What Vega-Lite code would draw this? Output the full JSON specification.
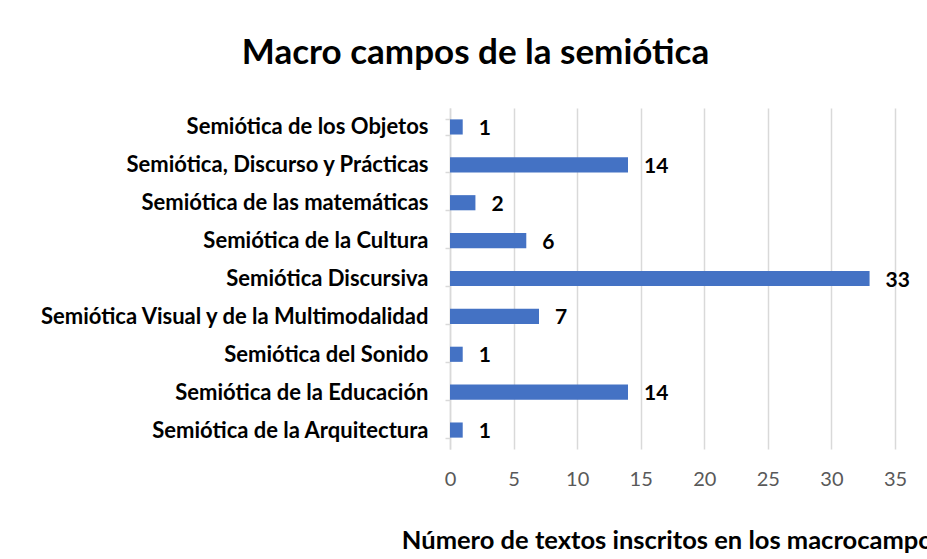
{
  "$schema": "https://vega.github.io/schema/vega-lite/v6.json",
  "width": 445,
  "height": 341,
  "autosize": {"type": "none"},
  "padding": {"left": 450, "top": 108, "right": 32, "bottom": 110},
  "background": "white",
  "title": {
    "text": "Macro campos de la semiótica",
    "font": "Lato",
    "fontSize": 35,
    "fontWeight": "bold",
    "color": "#000000",
    "anchor": "middle",
    "dx": -197,
    "offset": 26
  },
  "data": {
    "values": [
      {"campo": "Semiótica de los Objetos", "n": 1},
      {"campo": "Semiótica, Discurso y Prácticas", "n": 14},
      {"campo": "Semiótica de las matemáticas", "n": 2},
      {"campo": "Semiótica de la Cultura", "n": 6},
      {"campo": "Semiótica Discursiva", "n": 33},
      {"campo": "Semiótica Visual y de la Multimodalidad", "n": 7},
      {"campo": "Semiótica del Sonido", "n": 1},
      {"campo": "Semiótica de la Educación", "n": 14},
      {"campo": "Semiótica de la Arquitectura", "n": 1}
    ]
  },
  "encoding": {
    "y": {
      "field": "campo",
      "type": "nominal",
      "sort": null,
      "scale": {"paddingInner": 0.6, "paddingOuter": 0.3},
      "axis": {
        "title": null,
        "labelFont": "Lato",
        "labelFontSize": 22,
        "labelFontWeight": "bold",
        "labelColor": "#000000",
        "labelPadding": 17,
        "labelLimit": 500,
        "domainColor": "#d9d9d9",
        "domainWidth": 1.5,
        "tickColor": "#d9d9d9",
        "tickWidth": 1.5,
        "tickSize": 5,
        "tickBand": "extent",
        "grid": false
      }
    }
  },
  "layer": [
    {
      "mark": {"type": "bar", "color": "#4472C4"},
      "encoding": {
        "x": {
          "field": "n",
          "type": "quantitative",
          "scale": {"domain": [0, 35], "nice": false},
          "axis": {
            "values": [0, 5, 10, 15, 20, 25, 30, 35],
            "title": "Número de textos inscritos en los macrocampos",
            "titleFont": "Lato",
            "titleFontSize": 25.5,
            "titleFontWeight": "bold",
            "titleColor": "#000000",
            "titlePadding": 39,
            "labelFont": "Lato",
            "labelFontSize": 20,
            "labelColor": "#595959",
            "labelPadding": 20,
            "labelFlush": false,
            "domain": false,
            "ticks": false,
            "grid": true,
            "gridColor": "#d9d9d9",
            "gridWidth": 1.5
          }
        }
      }
    },
    {
      "mark": {
        "type": "text",
        "align": "left",
        "baseline": "middle",
        "dx": 16,
        "dy": 2,
        "font": "Lato",
        "fontSize": 21,
        "fontWeight": "bold",
        "color": "#000000"
      },
      "encoding": {
        "x": {"field": "n", "type": "quantitative"},
        "text": {"field": "n", "type": "quantitative"}
      }
    }
  ],
  "config": {"view": {"stroke": null}}
}
